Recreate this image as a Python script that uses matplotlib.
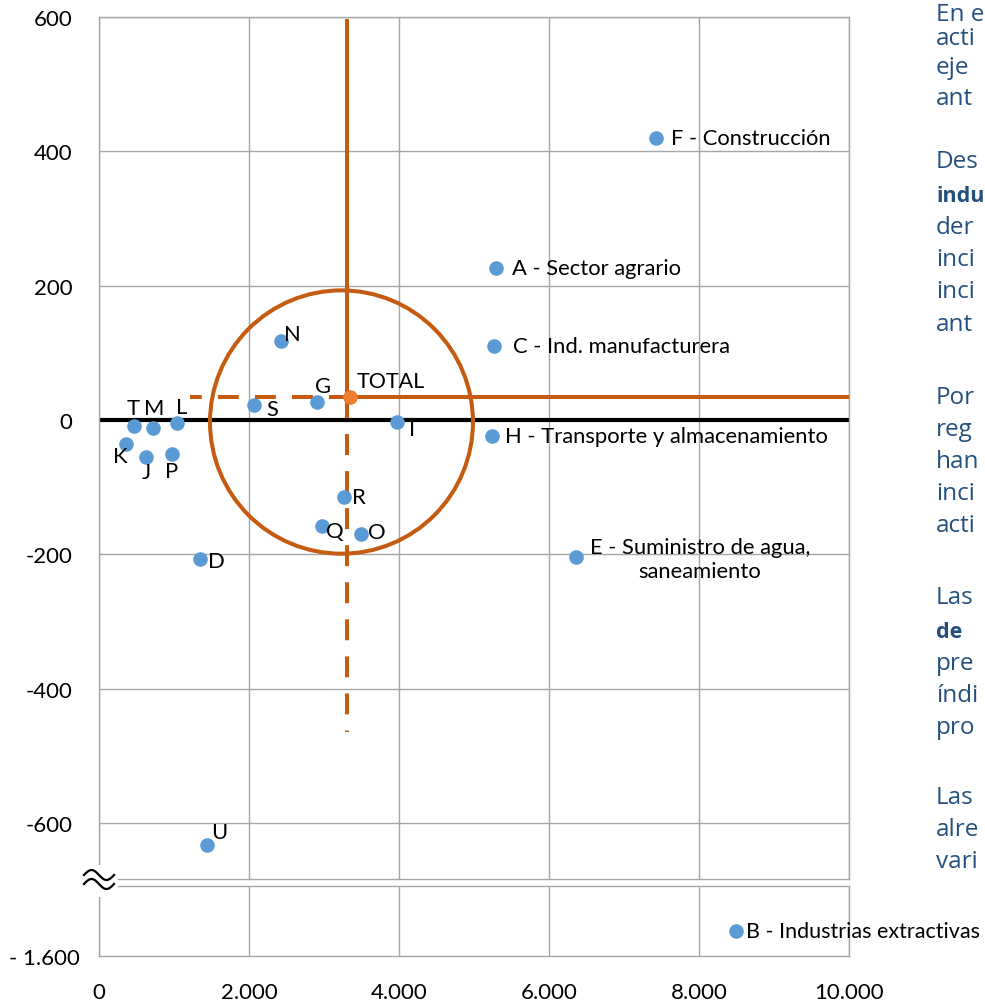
import numpy as np
import matplotlib.pyplot as plt
from matplotlib.patches import Ellipse, Rectangle
from matplotlib.lines import Line2D

# Datos (eje x: nivel, eje y: variación)
sectores = ["A", "C", "D", "E", "F", "G", "H", "I", "J", "K",
            "L", "M", "N", "O", "P", "Q", "R", "S", "T", "U"]
valores_x = [5293, 5267, 1347, 6360, 7427, 2907, 5240, 3973, 627, 360,
             1040, 720, 2427, 3493, 973, 2973, 3267, 2067, 467, 1440]
valores_y = [226, 110, -207, -204, 420, 27, -24, -3, -55, -36,
             -4, -12, 118, -170, -51, -158, -115, 22, -9, -633]
etiquetas = ["A - Sector agrario", "C - Ind. manufacturera", "D",
             "E - Suministro de agua,\nsaneamiento", "F - Construcción", "G",
             "H - Transporte y almacenamiento", "I", "J", "K", "L", "M", "N",
             "O", "P", "Q", "R", "S", "T", "U"]

# Sector fuera de escala (tramo inferior del eje)
sector_b = "B - Industrias extractivas"
b_x, b_y = 8493, -1563

# Total y líneas de referencia
total_x, total_y = 3347, 34
linea_v_x = 3307
linea_v_arriba, linea_v_abajo = 597, -464
linea_h_inicio = 1213
circulo_centro = (3233, -3)
circulo_radio_x, circulo_radio_y = 1753, 196

ticks_x = [0, 2000, 4000, 6000, 8000, 10000]
ticks_x_txt = ["0", "2.000", "4.000", "6.000", "8.000", "10.000"]
ticks_y = [600, 400, 200, 0, -200, -400, -600]
ticks_y_txt = ["600", "400", "200", "0", "-200", "-400", "-600"]

# Texto del documento (solo se ve el comienzo de cada línea)
parrafos = [
    ["En e", "acti", "eje", "ant"],
    ["Des", "**indu", "der", "inci", "inci", "ant"],
    ["Por", "reg", "han", "inci", "acti"],
    ["Las", "**de", "pre", "índi", "pro"],
    ["Las", "alre", "vari"],
]
lineas_y = [[15, 39, 68, 99], [162, 196, 228, 260, 292, 325],
            [398, 430, 462, 494, 526], [598, 632, 664, 696, 728],
            [798, 830, 862]]

# Desplazamiento de cada etiqueta (px: dx, dy, alineación)
desp = {
    "A": (16, 0, "left"), "C": (19, 0, "left"), "D": (16, -2, "center"),
    "E": (124, -2, "center"), "F": (15, 0, "left"), "G": (6, 16, "center"),
    "H": (13, 0, "left"), "I": (15, -7, "center"), "J": (0, -15, "center"),
    "K": (-6, -12, "center"), "L": (5, 16, "center"), "M": (1, 20, "center"),
    "N": (11, 7, "center"), "O": (16, 2, "center"), "P": (0, -17, "center"),
    "Q": (13, -5, "center"), "R": (15, 0, "center"), "S": (18, -4, "center"),
    "T": (-1, 18, "center"), "U": (12, 13, "center"),
}

plt.rcParams['font.family'] = ['Lato', 'DejaVu Sans']
azul = '#5B9BD5'
naranja = '#C55A11'
gris = '#A6A6A6'

W, H = 985, 1004
fig = plt.figure(figsize=(W / 100, H / 100), dpi=100)
ax = fig.add_axes([99 / W, 1 - 880 / H, 750 / W, 862 / H])
axb = fig.add_axes([99 / W, 1 - 957 / H, 750 / W, 70 / H])

px = 72 / 100  # pixeles a puntos

# Tramo superior
ax.set_xlim(0, 10000)
ax.set_ylim(-683.3, 600)
ax.set_xticks(ticks_x)
ax.set_yticks(ticks_y)
ax.set_yticklabels(ticks_y_txt)
ax.grid(color=gris, lw=1, zorder=0)
ax.set_axisbelow(True)
ax.tick_params(length=0, labelbottom=False, labelsize=16, pad=19)
for s in ax.spines.values():
    s.set_color(gris)
    s.set_linewidth(1)

ax.plot([0, 10000], [0, 0], color='black', lw=3, zorder=2)

# Líneas del total y círculo
ax.plot([linea_v_x, linea_v_x], [total_y, linea_v_arriba], color=naranja, lw=2.9, zorder=3,
        solid_capstyle='butt')
ax.plot([linea_v_x, linea_v_x], [total_y, linea_v_abajo], color=naranja, lw=2.9, zorder=3,
        linestyle=(0, (5.2, 4.0)), dash_capstyle='butt')
ax.plot([total_x, 10000], [total_y, total_y], color=naranja, lw=2.9, zorder=3,
        solid_capstyle='butt')
ax.plot([total_x, linea_h_inicio], [total_y, total_y], color=naranja, lw=2.9, zorder=3,
        linestyle=(0, (5.2, 4.0)), dash_capstyle='butt')
ax.add_patch(Ellipse(circulo_centro, 2 * circulo_radio_x, 2 * circulo_radio_y,
                     fill=False, edgecolor=naranja, lw=2.9, zorder=3))

ax.scatter(valores_x, valores_y, s=10.5 ** 2, color=azul, zorder=4, linewidths=0)
ax.scatter([total_x], [total_y], s=10.5 ** 2, color='#ED7D31', zorder=5, linewidths=0)

for sec, x, y, txt in zip(sectores, valores_x, valores_y, etiquetas):
    dx, dy, ha = desp[sec]
    ax.annotate(txt, (x, y), xytext=(dx * px, dy * px), textcoords='offset points',
                ha=ha, va='center', multialignment='center', fontsize=15.8, zorder=6)
ax.annotate("TOTAL", (total_x, total_y), xytext=(7 * px, 16 * px),
            textcoords='offset points', ha='left', va='center', fontsize=15.5, zorder=6)

# Tramo inferior
axb.set_xlim(0, 10000)
axb.set_ylim(-1600, -1600 + 70 / 0.6717)
axb.set_xticks(ticks_x)
axb.set_xticklabels(ticks_x_txt)
axb.set_yticks([-1600])
axb.set_yticklabels(["- 1.600"])
axb.grid(axis='x', color=gris, lw=1, zorder=0)
axb.set_axisbelow(True)
axb.tick_params(length=0, labelsize=16, pad=19)
axb.tick_params(axis='y', pad=14)
for s in axb.spines.values():
    s.set_color(gris)
    s.set_linewidth(1)

axb.scatter([b_x], [b_y], s=10.5 ** 2, color=azul, zorder=4, linewidths=0)
axb.annotate(sector_b, (b_x, b_y), xytext=(10 * px, 0), textcoords='offset points',
             ha='left', va='center', fontsize=15.5, zorder=6, annotation_clip=False)

# Símbolo de corte del eje
fig.add_artist(Rectangle((80 / W, 1 - 898 / H), 38 / W, 32 / H, transform=fig.transFigure,
                         facecolor='white', edgecolor='none', zorder=10))
t = np.linspace(0, 1, 60)
for yc in (876, 885):
    xs = 84 + 30 * t
    ys = yc - 5 * np.sin(2 * np.pi * t)
    fig.add_artist(Line2D(xs / W, 1 - ys / H, transform=fig.transFigure,
                          color='black', lw=1.6, zorder=11))

# Texto lateral
for parrafo, ys in zip(parrafos, lineas_y):
    for linea, y in zip(parrafo, ys):
        negrita = linea.startswith("**")
        fig.text(936 / W, 1 - y / H, linea.lstrip("*"), ha='left', va='center',
                 fontsize=15.5 if negrita else 17.5, color='#24507D',
                 family=['Open Sans', 'DejaVu Sans'],
                 fontweight='bold' if negrita else 'normal')

fig.savefig("out.png", dpi=100)
